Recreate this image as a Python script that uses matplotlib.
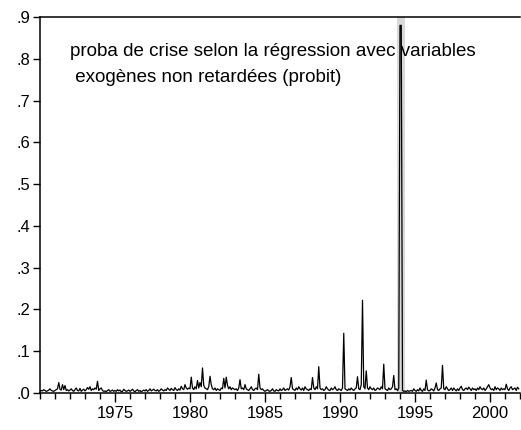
import numpy as np
import matplotlib
matplotlib.use("Agg")
import matplotlib.pyplot as plt
from matplotlib.ticker import MultipleLocator, FixedLocator, FuncFormatter

# monthly probability of crisis, 1970:01 - 2001:12
start_year = 1970
proba = [
    .004, .006, .005, .008, .006, .004, .005, .007, .010, .006, .005, .004,  # 1970
    .006, .008, .010, .025, .009, .007, .020, .008, .018, .006, .008, .005,  # 1971
    .007, .010, .006, .004, .008, .012, .006, .005, .011, .004, .007, .009,  # 1972
    .005, .008, .013, .009, .015, .006, .010, .008, .012, .009, .028, .006,  # 1973
    .010, .012, .006, .004, .005, .003, .006, .008, .004, .005, .007, .004,  # 1974
    .006, .004, .008, .005, .007, .003, .004, .009, .006, .004, .005, .007,  # 1975
    .004, .006, .009, .005, .003, .006, .008, .004, .006, .003, .005, .007,  # 1976
    .005, .008, .004, .006, .010, .005, .007, .009, .006, .005, .008, .004,  # 1977
    .006, .010, .007, .005, .008, .006, .012, .009, .006, .011, .008, .006,  # 1978
    .013, .008, .006, .010, .007, .016, .010, .008, .020, .012, .009, .012,  # 1979
    .010, .038, .012, .008, .015, .010, .030, .012, .025, .015, .060, .018,  # 1980
    .012, .010, .008, .015, .040, .020, .010, .008, .012, .006, .010, .008,  # 1981
    .006, .012, .010, .035, .012, .038, .018, .010, .015, .008, .012, .010,  # 1982
    .008, .010, .006, .012, .032, .010, .012, .008, .020, .010, .008, .006,  # 1983
    .010, .015, .008, .006, .010, .012, .008, .045, .012, .008, .010, .006,  # 1984
    .004, .006, .008, .005, .004, .006, .010, .005, .004, .008, .006, .005,  # 1985
    .010, .006, .008, .012, .006, .008, .010, .007, .015, .037, .010, .008,  # 1986
    .006, .012, .008, .015, .010, .007, .012, .006, .015, .010, .008, .006,  # 1987
    .010, .008, .037, .012, .008, .015, .010, .063, .012, .008, .010, .006,  # 1988
    .008, .015, .010, .007, .006, .012, .008, .010, .015, .008, .006, .010,  # 1989
    .008, .006, .012, .143, .010, .008, .006, .010, .007, .012, .008, .006,  # 1990
    .010, .012, .039, .010, .008, .020, .222, .015, .010, .053, .012, .008,  # 1991
    .015, .010, .008, .012, .006, .008, .012, .010, .008, .015, .010, .069,  # 1992
    .010, .008, .006, .012, .008, .010, .015, .042, .008, .010, .006, .012,  # 1993
    .880, .880, .006, .004, .005, .003, .006, .004, .005, .006, .004, .010,  # 1994
    .006, .004, .008, .005, .012, .006, .004, .010, .006, .031, .008, .005,  # 1995
    .006, .010, .008, .005, .012, .024, .008, .006, .010, .012, .066, .010,  # 1996
    .008, .015, .010, .006, .008, .012, .006, .012, .008, .005, .010, .006,  # 1997
    .012, .016, .008, .006, .010, .012, .008, .014, .010, .006, .012, .008,  # 1998
    .010, .006, .012, .008, .015, .010, .008, .012, .006, .010, .015, .020,  # 1999
    .012, .008, .010, .006, .015, .008, .012, .010, .006, .012, .008, .010,  # 2000
    .008, .021, .010, .006, .012, .015, .008, .010, .012, .006, .014, .010,  # 2001
]
year_ticks = [1975, 1980, 1985, 1990, 1995, 2000]
crisis_band = (1993.83, 1994.33)
label_lines = ["proba de crise selon la régression avec variables",
               " exogènes non retardées (probit)"]

dates = start_year + np.arange(len(proba)) / 12.0

plt.rcParams["font.family"] = ["Liberation Sans", "DejaVu Sans"]

fig = plt.figure(figsize=(5.21, 4.30), dpi=100)
ax = fig.add_axes([40 / 521, 37 / 430, 480 / 521, 376 / 430])

ax.axvspan(crisis_band[0], crisis_band[1], color="#d9d9d9", lw=0, zorder=0)
ax.plot(dates, proba, color="black", lw=0.9, zorder=2)

ax.set_xlim(1970, 2002)
ax.set_ylim(0, 0.9)

ax.xaxis.set_major_locator(FixedLocator(year_ticks))
ax.xaxis.set_minor_locator(MultipleLocator(1))
ax.yaxis.set_major_locator(MultipleLocator(0.1))
ax.yaxis.set_major_formatter(FuncFormatter(lambda v, p: ("%.1f" % v)[1:]))

ax.tick_params(axis="x", which="major", direction="out", length=6.5, width=1,
               labelsize=12, pad=3, top=False)
ax.tick_params(axis="x", which="minor", direction="out", length=4.3, width=1,
               top=False)
ax.tick_params(axis="y", which="major", direction="out", length=5, width=1,
               labelsize=12, pad=2, right=False)

for s in ax.spines.values():
    s.set_linewidth(1.1)
ax.spines["right"].set_visible(False)

# two-line note inside the plot
ax.text(0.0625, 0.896, label_lines[0], transform=ax.transAxes,
        fontsize=13.5, va="baseline", ha="left")
ax.text(0.0625, 0.827, label_lines[1], transform=ax.transAxes,
        fontsize=13.5, va="baseline", ha="left")

fig.savefig("out.png", dpi=100)
